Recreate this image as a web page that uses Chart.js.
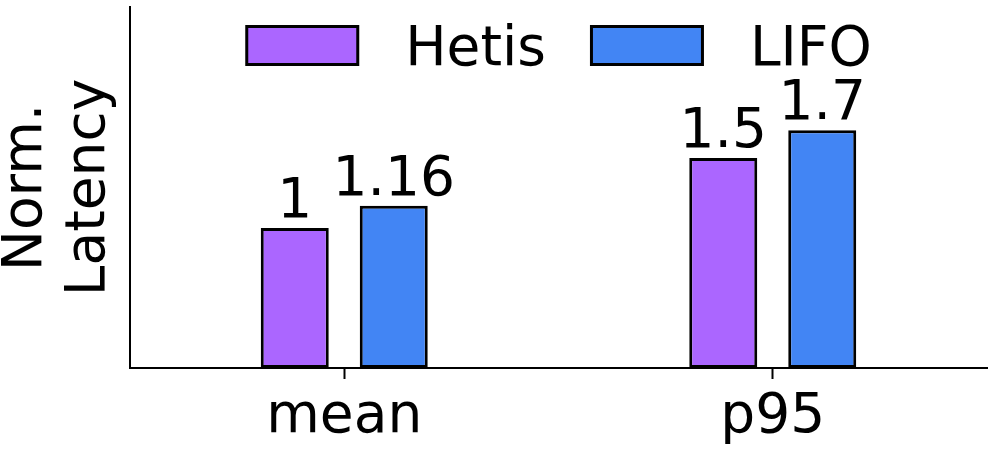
<!DOCTYPE html>
<html>
<head>
<meta charset="utf-8">
<script src="https://cdn.jsdelivr.net/npm/chart.js@4.4.0/dist/chart.umd.min.js"></script>
<style>
html, body { margin: 0; padding: 0; background: #fff; }
#wrap { width: 988px; height: 449px; position: relative; }
</style>
</head>
<body>
<div id="wrap"><canvas id="myChart"></canvas></div>
<script>
var categories = ['mean', 'p95'];
var hetis = [1, 1.5];
var lifo = [1.16, 1.7];
var yTitle = ['Norm.', 'Latency'];

var FONT = '"DejaVu Sans", "Liberation Sans", sans-serif';

// numbers above each bar
var valueLabels = {
	id: 'valueLabels',
	afterDatasetsDraw: function(chart) {
		var ctx = chart.ctx;
		ctx.save();
		ctx.font = '55px ' + FONT;
		ctx.fillStyle = '#000';
		ctx.textAlign = 'center';
		ctx.textBaseline = 'alphabetic';
		chart.data.datasets.forEach(function(ds, i) {
			var meta = chart.getDatasetMeta(i);
			meta.data.forEach(function(bar, j) {
				ctx.fillText(String(ds.data[j]), bar.x, bar.y - 11);
			});
		});
		ctx.restore();
	}
};

// legend drawn inside the plot, centred at the top
var topLegend = {
	id: 'topLegend',
	afterDraw: function(chart) {
		var ctx = chart.ctx;
		var area = chart.chartArea;
		var boxW = 114, boxH = 41, textGap = 46, colGap = 44;
		ctx.save();
		ctx.font = '55px ' + FONT;
		var items = chart.data.datasets.map(function(ds) {
			return { label: ds.label, color: ds.backgroundColor, w: ctx.measureText(ds.label).width };
		});
		var total = 0;
		items.forEach(function(it, i) {
			total += boxW + textGap + it.w + (i > 0 ? colGap : 0);
		});
		var x = (area.left + area.right) / 2 - total / 2;
		var top = 25;
		items.forEach(function(it) {
			ctx.fillStyle = it.color;
			ctx.fillRect(x + 1.5, top + 1.5, boxW - 3, boxH - 3);
			ctx.lineWidth = 3;
			ctx.strokeStyle = '#000';
			ctx.strokeRect(x + 1.5, top + 1.5, boxW - 3, boxH - 3);
			ctx.fillStyle = '#000';
			ctx.textAlign = 'left';
			ctx.textBaseline = 'alphabetic';
			ctx.fillText(it.label, x + boxW + textGap, 65);
			x += boxW + textGap + it.w + colGap;
		});
		ctx.restore();
	}
};

var chartdata = {
	labels: categories,
	datasets: [
		{
			label: 'Hetis',
			backgroundColor: '#ab66ff',
			borderColor: '#000',
			borderWidth: 3,
			borderSkipped: false,
			data: hetis
		},
		{
			label: 'LIFO',
			backgroundColor: '#4285f4',
			borderColor: '#000',
			borderWidth: 3,
			borderSkipped: false,
			data: lifo
		}
	]
};

var ctx = document.getElementById('myChart');

var barGraph = new Chart(ctx, {
	type: 'bar',
	data: chartdata,
	options: {
		responsive: true,
		maintainAspectRatio: false,
		animation: false,
		datasets: {
			bar: { categoryPercentage: 0.462, barPercentage: 0.687 }
		},
		layout: { padding: { top: 7, right: 1, left: 0, bottom: 0 } },
		plugins: {
			legend: { display: false },
			tooltip: { enabled: false }
		},
		scales: {
			x: {
				afterFit: function(scale) { scale.height = 81; },
				grid: {
					display: true,
					drawOnChartArea: false,
					drawTicks: true,
					offset: false,
					tickLength: 11,
					tickWidth: 2,
					tickColor: '#000'
				},
				border: { display: true, color: '#000', width: 2 },
				ticks: {
					color: '#000',
					padding: 6,
					font: { family: FONT, size: 55 }
				}
			},
			y: {
				min: 0,
				max: 2.58,
				afterFit: function(scale) { scale.width = 130; },
				grid: { display: false },
				border: { display: true, color: '#000', width: 2 },
				ticks: { display: false },
				title: {
					display: true,
					text: yTitle,
					color: '#000',
					padding: { top: -4, bottom: 0 },
					font: { family: FONT, size: 55, lineHeight: 1.13 }
				}
			}
		}
	},
	plugins: [valueLabels, topLegend]
});
</script>
</body>
</html>
